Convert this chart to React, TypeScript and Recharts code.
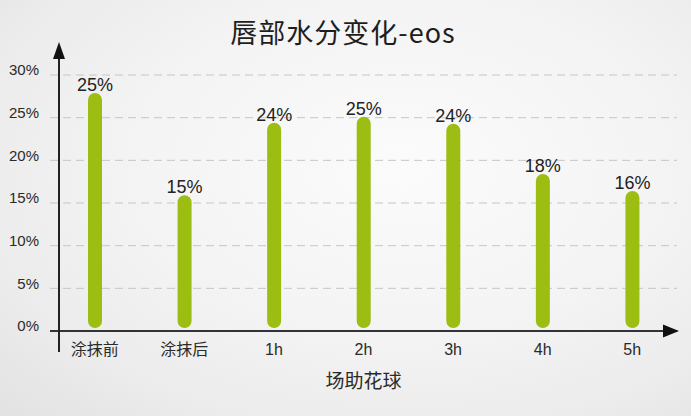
import React from 'react';
import { BarChart, Bar, XAxis, YAxis, CartesianGrid, LabelList } from 'recharts';

const categories = ['涂抹前', '涂抹后', '1h', '2h', '3h', '4h', '5h'];
const moisture = [27.9, 15.9, 24.4, 25.1, 24.3, 18.4, 16.4];
const valueLabels = ['25%', '15%', '24%', '25%', '24%', '18%', '16%'];
const yTicks = [0, 5, 10, 15, 20, 25, 30];

const data = categories.map((name, i) => ({ name, value: moisture[i], label: valueLabels[i] }));

const FONT = '"Liberation Sans", Arial, "Noto Sans CJK SC", sans-serif';

// pill shaped bar, lifted a little off the axis like the original
const PillBar = (props: any) => {
    const { x, y, width, height, fill } = props;
    if (!height || height <= 0) return null;
    const h = Math.max(height - 3, width);
    return <rect x={x} y={y} width={width} height={h} rx={width / 2} ry={width / 2} fill={fill} />;
};

const App: React.FC = () => {
    return (
        <div
            style={{
                position: 'absolute',
                left: 0,
                top: 0,
                width: 691,
                height: 416,
                fontFamily: FONT,
                background:
                    'radial-gradient(ellipse at 58% 40%, #fbfbfb 0%, #f4f4f4 45%, #ececec 75%, #e2e2e2 100%)',
                overflow: 'hidden',
            }}
        >
            <div
                style={{
                    position: 'absolute',
                    left: 0,
                    width: 686,
                    top: 14,
                    textAlign: 'center',
                    fontSize: 27,
                    letterSpacing: 1,
                    color: '#1e1e1e',
                    fontFamily: '"Noto Sans CJK SC", "Liberation Sans", sans-serif',
                    lineHeight: '36px',
                }}
            >
                唇部水分变化-eos
            </div>
            <BarChart
                width={691}
                height={416}
                data={data}
                margin={{ top: 75, right: 14, bottom: 25, left: 0 }}
            >
                <CartesianGrid
                    vertical={false}
                    horizontalValues={[5, 10, 15, 20, 25, 30]}
                    stroke="#c6c6c6"
                    strokeDasharray="8 5"
                />
                <XAxis
                    dataKey="name"
                    height={60}
                    tickLine={false}
                    tickMargin={7}
                    axisLine={{ stroke: '#333', strokeWidth: 2 }}
                    tick={{ fill: '#2a2a2a', fontSize: 16 }}
                    label={{ value: '场助花球', position: 'insideBottom', offset: 3, fill: '#2a2a2a', fontSize: 19 }}
                />
                <YAxis
                    width={50}
                    domain={[0, 30]}
                    ticks={yTicks}
                    interval={0}
                    tickFormatter={(v: number) => `${v}%`}
                    axisLine={false}
                    tickLine={false}
                    tickMargin={5}
                    tick={{ fill: '#2a2a2a', fontSize: 15, dy: -5 }}
                />
                <Bar dataKey="value" fill="#9cbd12" barSize={14} shape={<PillBar />} isAnimationActive={false}>
                    <LabelList dataKey="label" position="top" offset={2} fill="#222" fontSize={18} />
                </Bar>
            </BarChart>
            <svg
                width={691}
                height={416}
                style={{ position: 'absolute', left: 0, top: 0, pointerEvents: 'none' }}
            >
                <line x1={59} y1={352} x2={59} y2={52} stroke="#222" strokeWidth={2} />
                <polygon points="59,42 53,59 65,59" fill="#111" />
                <polygon points="663,324.5 679,331 663,337.5" fill="#111" />
            </svg>
        </div>
    );
};

export default App;
